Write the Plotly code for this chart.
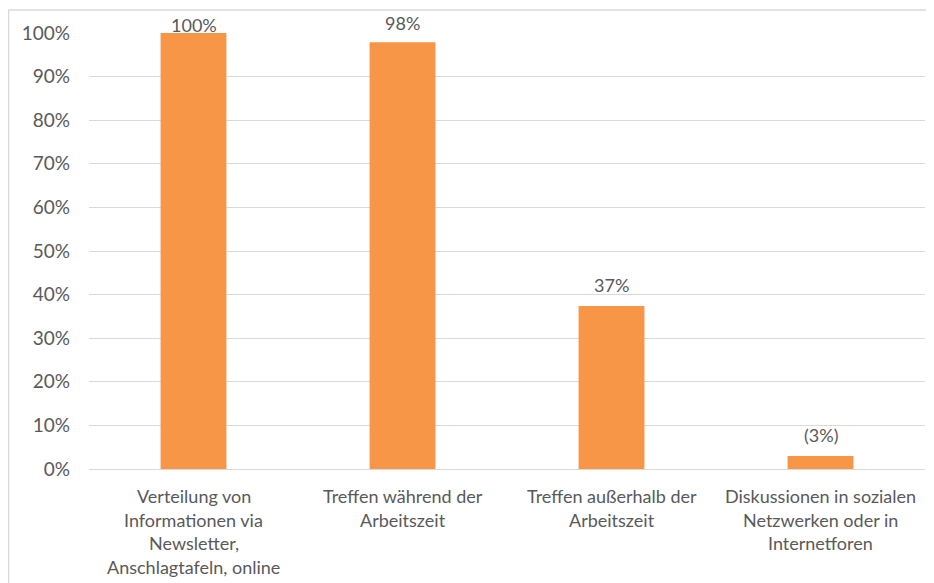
import plotly.graph_objects as go

categories = [
    "Verteilung von Informationen via Newsletter, Anschlagtafeln, online",
    "Treffen während der Arbeitszeit",
    "Treffen außerhalb der Arbeitszeit",
    "Diskussionen in sozialen Netzwerken oder in Internetforen",
]
category_lines = [
    ["Verteilung von", "Informationen via", "Newsletter,", "Anschlagtafeln, online"],
    ["Treffen während der", "Arbeitszeit"],
    ["Treffen außerhalb der", "Arbeitszeit"],
    ["Diskussionen in sozialen", "Netzwerken oder in", "Internetforen"],
]
values = [1.00, 0.979, 0.374, 0.030]
labels = ["100%", "98%", "37%", "(3%)"]
y_ticks = [0, 0.1, 0.2, 0.3, 0.4, 0.5, 0.6, 0.7, 0.8, 0.9, 1.0]

# style
FONT = "Lato, Carlito, Calibri, sans-serif"
GREY = "#595959"
label_shift = [-5, 6, 8, 8]
LINE_STEP = 23.7
FIRST_LINE = 27

fig = go.Figure(
    go.Bar(
        x=categories,
        y=values,
        marker=dict(color="#F79646", line=dict(width=0)),
        cliponaxis=False,
        hoverinfo="x+y",
    )
)

annotations = []
for cat, val, lab, sh in zip(categories, values, labels, label_shift):
    annotations.append(dict(
        x=cat, y=val, xref="x", yref="y", text=lab, showarrow=False,
        yanchor="bottom", yshift=sh,
        font=dict(family=FONT, size=18, color=GREY),
    ))
for cat, lines in zip(categories, category_lines):
    for i, line in enumerate(lines):
        annotations.append(dict(
            x=cat, y=0, xref="x", yref="paper", text=line, showarrow=False,
            yanchor="middle", yshift=-(FIRST_LINE + i * LINE_STEP),
            font=dict(family=FONT, size=18, color=GREY),
        ))

fig.update_layout(
    width=926,
    height=575,
    margin=dict(l=81, r=9, t=25, b=114),
    paper_bgcolor="white",
    plot_bgcolor="white",
    bargap=0.685,
    showlegend=False,
    font=dict(family=FONT, size=16, color=GREY),
    annotations=annotations,
    shapes=[
        dict(type="line", xref="paper", yref="paper",
             x0=-0.0963, x1=1.05, y0=1.0528, y1=1.0528,
             line=dict(color="#d9d9d9", width=1.5)),
        dict(type="line", xref="paper", yref="paper",
             x0=-0.0963, x1=-0.0963, y0=1.0528, y1=-0.35,
             line=dict(color="#d9d9d9", width=1.5)),
    ],
)

fig.update_yaxes(
    range=[0, 1.0],
    tickvals=y_ticks,
    tickformat=".0%",
    showgrid=True,
    gridcolor="#d9d9d9",
    gridwidth=1,
    zeroline=True,
    zerolinecolor="#d9d9d9",
    zerolinewidth=1,
    showline=False,
    ticks="",
    ticklabelstandoff=18,
    tickfont=dict(family=FONT, size=19, color=GREY),
)

fig.update_xaxes(
    showgrid=False,
    showline=False,
    ticks="",
    showticklabels=False,
)

fig.write_html("out.html")
